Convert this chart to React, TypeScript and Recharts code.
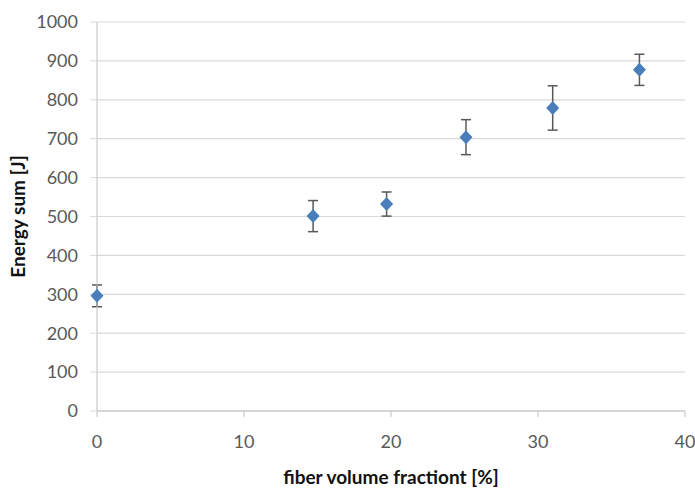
import React from 'react';
import { ScatterChart, Scatter, XAxis, YAxis, CartesianGrid, ErrorBar, Label } from 'recharts';

const fiberFraction = [0, 14.7, 19.7, 25.1, 31.0, 36.9];
const energySum = [296, 501, 532, 704, 779, 877];
const energyError = [28, 40, 31, 45, 57, 40];

const xTicks = [0, 10, 20, 30, 40];
const yTicks = [0, 100, 200, 300, 400, 500, 600, 700, 800, 900, 1000];

const data = fiberFraction.map((x, i) => ({ x, y: energySum[i], err: energyError[i] }));

const tickStyle = { fill: '#595959', fontSize: 18, fontFamily: 'Lato' };

const Diamond = (props: any) => {
  const { cx, cy } = props;
  if (cx == null || cy == null) return null;
  return (
    <polygon
      points={`${cx},${cy - 7} ${cx + 6.5},${cy} ${cx},${cy + 7} ${cx - 6.5},${cy}`}
      fill="#4a7ebb"
    />
  );
};

export default function App() {
  return (
    <div style={{ width: 695, height: 489, background: '#fff' }}>
      <style>{`body { margin: 0; }`}</style>
      <ScatterChart width={695} height={489} margin={{ top: 22, right: 10, left: 0, bottom: 0 }}>
        <CartesianGrid horizontal vertical={false} stroke="#d9d9d9" strokeWidth={1.2} />
        <XAxis
          type="number"
          dataKey="x"
          domain={[0, 40]}
          ticks={xTicks}
          height={78}
          stroke="#bfbfbf"
          tickSize={6}
          tickMargin={18}
          tick={tickStyle}
        >
          <Label
            content={({ viewBox }: any) => (
              <text
                x={viewBox.x + viewBox.width / 2}
                y={viewBox.y + 73}
                textAnchor="middle"
                fontFamily="Lato"
                fontWeight="bold"
                fontSize={19}
                fill="#111"
              >
                fiber volume fractiont [%]
              </text>
            )}
          />
        </XAxis>
        <YAxis
          type="number"
          dataKey="y"
          domain={[0, 1000]}
          ticks={yTicks}
          width={97}
          stroke="#bfbfbf"
          tickLine={{ stroke: '#d9d9d9' }}
          tickSize={7}
          tickMargin={12}
          tick={tickStyle}
        >
          <Label
            content={({ viewBox }: any) => {
              const cx = viewBox.x + 25;
              const cy = viewBox.y + viewBox.height / 2;
              return (
                <text
                  x={cx}
                  y={cy}
                  transform={`rotate(-90 ${cx} ${cy})`}
                  textAnchor="middle"
                  fontFamily="Lato"
                  fontWeight="bold"
                  fontSize={19}
                  fill="#111"
                >
                  Energy sum [J]
                </text>
              );
            }}
          />
        </YAxis>
        <Scatter data={data} shape={<Diamond />} isAnimationActive={false}>
          <ErrorBar dataKey="err" direction="y" width={5} stroke="#595959" strokeWidth={1.5} />
        </Scatter>
      </ScatterChart>
    </div>
  );
}
